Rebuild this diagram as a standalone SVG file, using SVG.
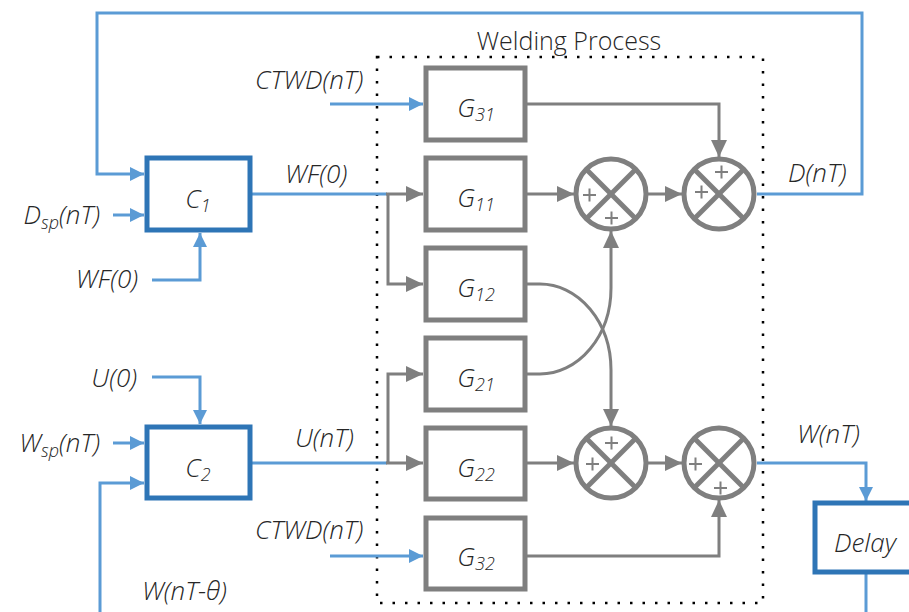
<svg xmlns="http://www.w3.org/2000/svg" width="909" height="612" viewBox="0 0 909 612">
<style>
.bl{fill:none;stroke:#5B9BD5;stroke-width:3}
.gl{fill:none;stroke:#7F7F7F;stroke-width:3}
.cb{fill:#fff;stroke:#2E75B6;stroke-width:5}
.gb{fill:#fff;stroke:#7F7F7F;stroke-width:5}
.sm{fill:#fff;stroke:#7F7F7F;stroke-width:5}
.x{stroke:#7F7F7F;stroke-width:5}
.pl{stroke:#7F7F7F;stroke-width:2}
.t{font-family:"Open Sans","Liberation Sans",sans-serif;font-size:26px;font-style:italic;font-weight:300;fill:#262626}
.c{text-anchor:middle}
.e{text-anchor:end}
.s{font-size:18px}
</style>
<defs>
<marker id="ab" viewBox="0 0 14 14" refX="14" refY="7" markerWidth="14" markerHeight="14" markerUnits="userSpaceOnUse" orient="auto"><path d="M0,0 L14,7 L0,14 z" fill="#5B9BD5"/></marker>
<marker id="ag" viewBox="0 0 17 16" refX="17" refY="8" markerWidth="17" markerHeight="16" markerUnits="userSpaceOnUse" orient="auto"><path d="M0,0 L17,8 L0,16 z" fill="#7F7F7F"/></marker>
</defs>
<rect width="909" height="612" fill="#fff"/>

<g id="welding-process">
<rect x="377" y="57" width="386" height="546" fill="none" stroke="#000" stroke-width="2.5" stroke-dasharray="2.5 10"/>
<text x="569" y="50" style="font-family:'Open Sans','Liberation Sans',sans-serif;font-size:25px;font-weight:300;fill:#262626;text-anchor:middle">Welding Process</text>
</g>

<g id="connectors">
<polyline class="bl" points="757,194 862,194 862,13 97,13 97,174 144,174" marker-end="url(#ab)"/>
<line class="bl" x1="113" y1="215" x2="144" y2="215" marker-end="url(#ab)"/>
<polyline class="bl" points="152,280 200,280 200,233" marker-end="url(#ab)"/>
<line class="bl" x1="250" y1="194" x2="387" y2="194"/>
<line class="gl" x1="386" y1="194" x2="423" y2="194" marker-end="url(#ag)"/>
<polyline class="gl" points="388,194 388,284 423,284" marker-end="url(#ag)"/>
<line class="bl" x1="330" y1="104" x2="423" y2="104" marker-end="url(#ab)"/>
<polyline class="bl" points="152,377 200,377 200,424" marker-end="url(#ab)"/>
<line class="bl" x1="113" y1="443" x2="144" y2="443" marker-end="url(#ab)"/>
<polyline class="bl" points="100,612 100,483 144,483" marker-end="url(#ab)"/>
<line class="bl" x1="250" y1="463" x2="387" y2="463"/>
<line class="gl" x1="386" y1="463" x2="423" y2="463" marker-end="url(#ag)"/>
<polyline class="gl" points="388,463 388,374 423,374" marker-end="url(#ag)"/>
<line class="bl" x1="330" y1="556" x2="423" y2="556" marker-end="url(#ab)"/>
<polyline class="gl" points="525,104 719,104 719,157" marker-end="url(#ag)"/>
<line class="gl" x1="525" y1="194" x2="574" y2="194" marker-end="url(#ag)"/>
<line class="gl" x1="648" y1="194" x2="682" y2="194" marker-end="url(#ag)"/>
<path class="gl" d="M525,284 L540,284 A71 86 0 0 1 611,370 L611,426" marker-end="url(#ag)"/>
<path class="gl" d="M525,374 L540,374 A71 86 0 0 0 611,288 L611,231" marker-end="url(#ag)"/>
<line class="gl" x1="525" y1="463" x2="574" y2="463" marker-end="url(#ag)"/>
<line class="gl" x1="648" y1="463" x2="682" y2="463" marker-end="url(#ag)"/>
<polyline class="gl" points="525,556 719,556 719,500" marker-end="url(#ag)"/>
<polyline class="bl" points="757,463 866,463 866,501" marker-end="url(#ab)"/>
<line class="bl" x1="866" y1="572" x2="866" y2="612"/>
</g>

<g id="C1"><rect class="cb" x="147" y="158" width="103" height="72"/><text class="t c" x="198" y="208">C<tspan class="s" dy="4">1</tspan></text></g>
<g id="C2"><rect class="cb" x="147" y="427" width="103" height="71"/><text class="t c" x="198" y="477">C<tspan class="s" dy="4">2</tspan></text></g>
<g id="Delay"><rect class="cb" x="815" y="503" width="100" height="69"/><text class="t" x="834" y="552">Delay</text></g>

<g id="G31"><rect class="gb" x="426" y="68" width="99" height="72"/><text class="t c" x="476" y="117">G<tspan class="s" dy="4">31</tspan></text></g>
<g id="G11"><rect class="gb" x="426" y="158" width="99" height="72"/><text class="t c" x="476" y="207">G<tspan class="s" dy="4">11</tspan></text></g>
<g id="G12"><rect class="gb" x="426" y="248" width="99" height="72"/><text class="t c" x="476" y="297">G<tspan class="s" dy="4">12</tspan></text></g>
<g id="G21"><rect class="gb" x="426" y="338" width="99" height="72"/><text class="t c" x="476" y="387">G<tspan class="s" dy="4">21</tspan></text></g>
<g id="G22"><rect class="gb" x="426" y="428" width="99" height="71"/><text class="t c" x="476" y="477">G<tspan class="s" dy="4">22</tspan></text></g>
<g id="G32"><rect class="gb" x="426" y="518" width="99" height="71"/><text class="t c" x="476" y="566">G<tspan class="s" dy="4">32</tspan></text></g>

<g id="sum1"><circle class="sm" cx="611" cy="194" r="35"/><line class="x" x1="586" y1="169" x2="636" y2="219"/><line class="x" x1="636" y1="169" x2="586" y2="219"/><path class="pl" d="M583,195 h13 M589.5,188.5 v13 M605,218 h13 M611.5,211.5 v13"/></g>
<g id="sum2"><circle class="sm" cx="719" cy="194" r="35"/><line class="x" x1="694" y1="169" x2="744" y2="219"/><line class="x" x1="744" y1="169" x2="694" y2="219"/><path class="pl" d="M715,172 h13 M721.5,165.5 v13 M695,192 h13 M701.5,185.5 v13"/></g>
<g id="sum3"><circle class="sm" cx="611" cy="463" r="35"/><line class="x" x1="586" y1="438" x2="636" y2="488"/><line class="x" x1="636" y1="438" x2="586" y2="488"/><path class="pl" d="M605,443 h13 M611.5,436.5 v13 M586,464 h13 M592.5,457.5 v13"/></g>
<g id="sum4"><circle class="sm" cx="719" cy="463" r="35"/><line class="x" x1="694" y1="438" x2="744" y2="488"/><line class="x" x1="744" y1="438" x2="694" y2="488"/><path class="pl" d="M689,464 h13 M695.5,457.5 v13 M714,488 h13 M720.5,481.5 v13"/></g>

<g id="labels">
<text class="t" x="285" y="183">WF(0)</text>
<text class="t e" x="100" y="224">D<tspan class="s" dy="5">sp</tspan><tspan dy="-5">(nT)</tspan></text>
<text class="t e" x="138" y="288">WF(0)</text>
<text class="t e" x="137" y="387">U(0)</text>
<text class="t e" x="100" y="452">W<tspan class="s" dy="5">sp</tspan><tspan dy="-5">(nT)</tspan></text>
<text class="t" x="142" y="600">W(nT-θ)</text>
<text class="t" x="295" y="447">U(nT)</text>
<text class="t" x="255" y="89">CTWD(nT)</text>
<text class="t" x="255" y="539">CTWD(nT)</text>
<text class="t" x="788" y="182">D(nT)</text>
<text class="t" x="797" y="443">W(nT)</text>
</g>
</svg>
